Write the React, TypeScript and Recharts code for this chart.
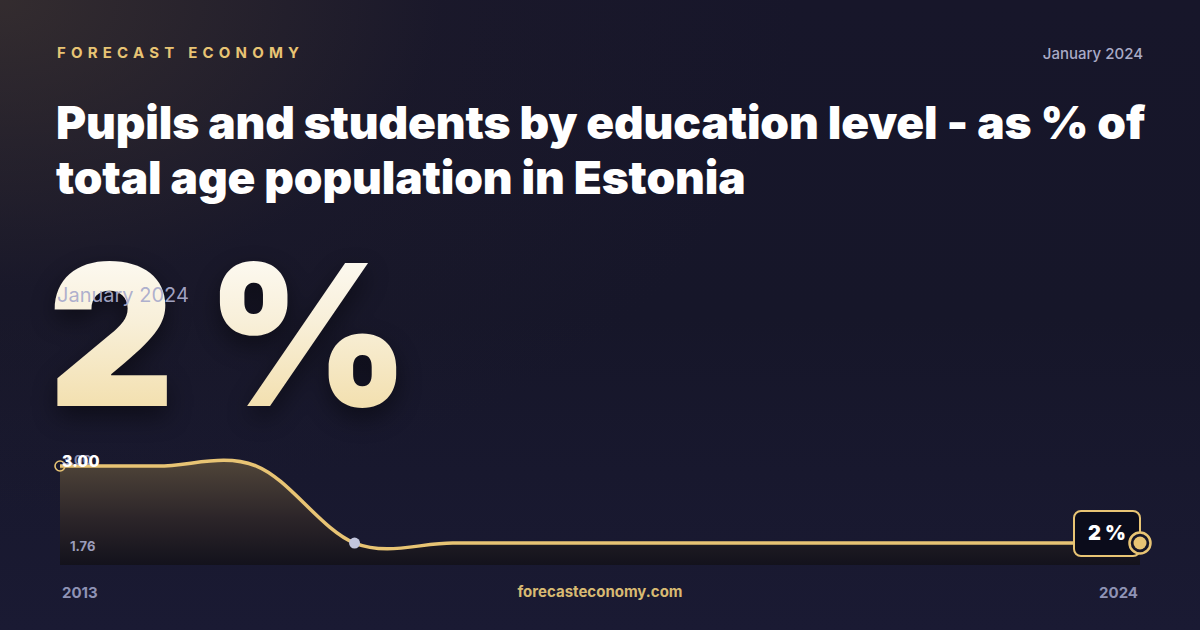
import React from "react";
import { AreaChart, Area, XAxis, YAxis } from "recharts";

const years = ["2013","2014","2015","2016","2017","2018","2019","2020","2021","2022","2023","2024"];
const values = [3.0, 3.0, 3.0, 1.76, 1.76, 1.76, 1.76, 1.76, 1.76, 1.76, 1.76, 1.76];
const maxLabel = "3.00";
const minLabel = "1.76";
const headline = "2 %";
const dateLabel = "January 2024";

const data = years.map((y, i) => ({ year: y, value: values[i] }));

const GOLD = "#e8c474";
const FONT = "Inter, 'Noto Sans', sans-serif";

// Cardinal spline (tension 0, i.e. Catmull-Rom uniform) as a d3-style curve factory
const cardinalCurve = (context: any) => {
  const k = 1 / 6;
  let x0 = NaN, y0 = NaN, x1 = NaN, y1 = NaN, x2 = NaN, y2 = NaN;
  let pt = 0;
  let line: number = NaN;
  const seg = (x: number, y: number) => {
    context.bezierCurveTo(
      x1 + k * (x2 - x0),
      y1 + k * (y2 - y0),
      x2 + k * (x1 - x),
      y2 + k * (y1 - y),
      x2,
      y2
    );
  };
  return {
    areaStart() { line = 0; },
    areaEnd() { line = NaN; },
    lineStart() { x0 = x1 = x2 = y0 = y1 = y2 = NaN; pt = 0; },
    lineEnd() {
      if (pt === 2) context.lineTo(x2, y2);
      else if (pt === 3) seg(x1, y1);
      if (line || (line !== 0 && pt === 1)) context.closePath();
      line = 1 - line;
    },
    point(x: number, y: number) {
      x = +x; y = +y;
      if (pt === 0) {
        pt = 1;
        if (line) context.lineTo(x, y); else context.moveTo(x, y);
      } else if (pt === 1) {
        pt = 2; x1 = x; y1 = y;
      } else {
        pt = 3; seg(x, y);
      }
      x0 = x1; x1 = x2; x2 = x;
      y0 = y1; y1 = y2; y2 = y;
    },
  };
};

const renderDot = (props: any) => {
  const { cx, cy, index } = props;
  const last = values.length - 1;
  if (index === 0) {
    return <circle key="d0" cx={cx} cy={cy} r={5} fill="none" stroke={GOLD} strokeWidth={1.6} />;
  }
  if (index === 3) {
    return <circle key="d3" cx={cx} cy={cy} r={5.5} fill="#c3c6dd" />;
  }
  if (index === last) {
    return (
      <g key="dl">
        <rect x={cx - 66} y={cy - 32} width={66} height={45} rx={7} fill="#0b0c1b" stroke={GOLD} strokeWidth={2} />
        <text x={cx - 33} y={cy - 3} textAnchor="middle" fill="#ffffff" fontFamily={FONT} fontWeight={900} fontSize={20}>{headline}</text>
        <circle cx={cx} cy={cy} r={10.5} fill="#151527" stroke={GOLD} strokeWidth={2.5} />
        <circle cx={cx} cy={cy} r={6.5} fill={GOLD} />
      </g>
    );
  }
  return <g key={"n" + index} />;
};

export default function App() {
  return (
    <div
      style={{
        position: "absolute",
        left: 0,
        top: 0,
        width: 1200,
        height: 630,
        overflow: "hidden",
        fontFamily: FONT,
        background:
          "radial-gradient(ellipse 800px 520px at 0% 0%, rgba(80,66,52,0.5), rgba(40,34,44,0.18) 55%, rgba(0,0,0,0) 100%), linear-gradient(180deg, #17162a 0%, #161629 50%, #1a1a33 100%)",
      }}
    >
      <div style={{ position: "absolute", left: 57, top: 43, fontSize: 15, fontWeight: 700, letterSpacing: 5.2, color: GOLD }}>
        FORECAST ECONOMY
      </div>
      <div style={{ position: "absolute", right: 57, top: 44, fontSize: 15, fontWeight: 500, color: "#a9abc6" }}>
        {dateLabel}
      </div>
      <div
        style={{
          position: "absolute",
          left: 56,
          top: 95,
          width: 1120,
          fontSize: 46,
          lineHeight: "55px",
          fontWeight: 900,
          letterSpacing: -0.15,
          color: "#ffffff",
        }}
      >
        Pupils and students by education level - as % of total age population in Estonia
      </div>

      <div
        style={{
          position: "absolute",
          left: 48,
          top: 220,
          fontSize: 196,
          lineHeight: "230px",
          fontWeight: 900,
          letterSpacing: -4,
          background: "linear-gradient(180deg, #ffffff 0%, #f8efd8 45%, #f0d89a 100%)",
          WebkitBackgroundClip: "text",
          backgroundClip: "text",
          color: "transparent",
          filter: "drop-shadow(0px 10px 12px rgba(0,0,0,0.45))",
        }}
      >
        {headline}
      </div>
      <div style={{ position: "absolute", left: 57, top: 283, fontSize: 20, fontWeight: 400, color: "rgba(170,172,204,0.95)" }}>
        {dateLabel}
      </div>

      <div style={{ position: "absolute", left: 0, top: 440 }}>
        <AreaChart width={1200} height={140} data={data} margin={{ top: 10, right: 60, bottom: 15, left: 60 }}>
          <defs>
            <linearGradient id="areaFill" x1="0" y1="0" x2="0" y2="1">
              <stop offset="0%" stopColor="#504539" stopOpacity={1} />
              <stop offset="55%" stopColor="#2c2529" stopOpacity={1} />
              <stop offset="100%" stopColor="#13121c" stopOpacity={1} />
            </linearGradient>
          </defs>
          <XAxis dataKey="year" hide />
          <YAxis hide domain={[1.406, 3.258]} />
          <Area
            type={cardinalCurve as any}
            dataKey="value"
            stroke={GOLD}
            strokeWidth={3.5}
            fill="url(#areaFill)"
            fillOpacity={1}
            baseValue={1.406}
            dot={renderDot}
            activeDot={false}
            isAnimationActive={false}
          />
        </AreaChart>
      </div>

      <div style={{ position: "absolute", left: 62, top: 452, fontSize: 13, fontWeight: 700, color: "rgba(150,154,190,0.9)" }}>
        {maxLabel}
      </div>
      <div style={{ position: "absolute", left: 62, top: 451, fontSize: 16, fontWeight: 800, color: "#ffffff" }}>
        {maxLabel}
      </div>
      <div style={{ position: "absolute", left: 70, top: 538, fontSize: 13, fontWeight: 700, color: "#9a9dbb" }}>
        {minLabel}
      </div>

      <div style={{ position: "absolute", left: 62, top: 583, fontSize: 15, fontWeight: 700, color: "#8f93b5" }}>{years[0]}</div>
      <div style={{ position: "absolute", left: 0, width: 1200, textAlign: "center", top: 582, fontSize: 15, fontWeight: 700, color: "#d8ba72" }}>
        forecasteconomy.com
      </div>
      <div style={{ position: "absolute", right: 62, top: 583, fontSize: 15, fontWeight: 700, color: "#8f93b5" }}>{years[years.length - 1]}</div>
    </div>
  );
}
